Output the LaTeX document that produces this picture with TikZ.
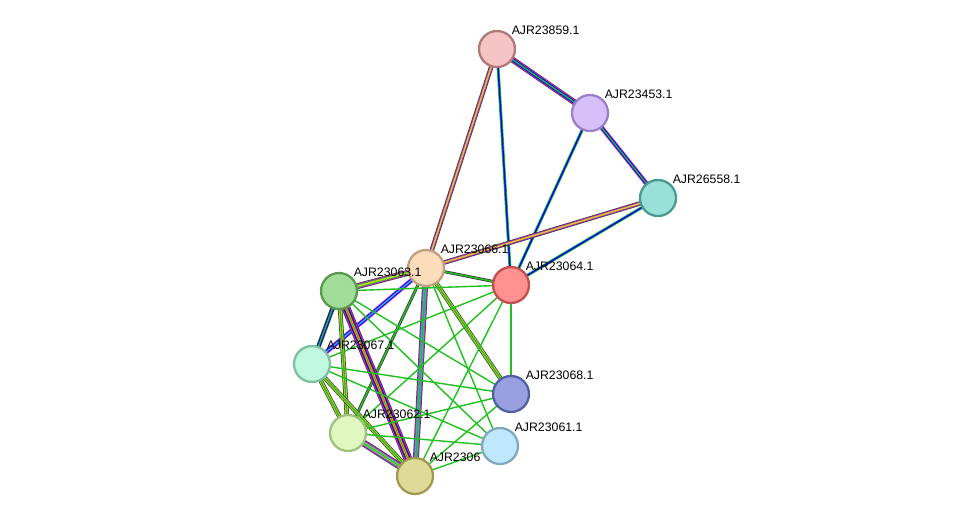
\documentclass[tikz,border=0pt]{standalone}
\usepackage{fontspec}
\setmainfont{Liberation Sans}
\usetikzlibrary{positioning}
\tikzset{%
	protein/.style={
		circle,
		draw,
		line width=1.3pt,
		minimum size=0.72cm,
		inner sep=0pt
	},
	lbl/.style={
		font=\fontsize{7}{8}\selectfont,
		inner sep=0.5pt
	},
}
% one connector, drawn as stacked bands from outer to inner colour
\newcommand{\link}[3]{%
	\foreach \c/\w in {#3} {\draw[\c, line width=\w pt] (#1) -- (#2);}
}
\definecolor{stry}{HTML}{C8D820}
\definecolor{strg}{HTML}{20C020}
\definecolor{strm}{HTML}{D020D0}
\definecolor{strc}{HTML}{30B0E0}
\definecolor{strk}{HTML}{404040}

\begin{document}
\begin{tikzpicture}[x=0.02cm,y=-0.02cm]
	\useasboundingbox (0,0) rectangle (975,522);
	% positions
	\coordinate (p859) at (497,49);
	\coordinate (p453) at (590,113);
	\coordinate (p558) at (658,198);
	\coordinate (p066) at (426,268);
	\coordinate (p064) at (511,285);
	\coordinate (p063) at (339,291);
	\coordinate (p067) at (312,364);
	\coordinate (p068) at (511,394);
	\coordinate (p062) at (348,433);
	\coordinate (p061) at (500,446);
	\coordinate (p060) at (415,476);
	
	% connectors
	\link{p859}{p453}{strk/3.4,strm/2.6,blue/1.7,strg/0.8}
	\link{p859}{p066}{strk/2.6,strm/1.7,stry/0.8}
	\link{p859}{p064}{strg/1.7,blue/0.8}
	\link{p453}{p558}{strm/2.6,blue/1.7,strg/0.8}
	\link{p453}{p064}{strg/1.7,blue/0.8}
	\link{p558}{p066}{strk/2.6,strm/1.7,stry/0.8}
	\link{p558}{p064}{strg/1.7,blue/0.8}
	\link{p066}{p064}{strk/1.7,strg/0.8}
	\link{p066}{p063}{strk/3.4,strm/2.6,strg/1.7,stry/0.8}
	\link{p066}{p067}{strm/2.6,blue/1.7,strc/0.8}
	\link{p066}{p062}{strk/1.7,strg/0.8}
	\link{p066}{p060}{strk/3.4,strm/2.6,strc/1.7,strg/0.8}
	\link{p066}{p068}{strk/2.6,stry/1.7,strg/0.8}
	\link{p066}{p061}{strg/0.8}
	\link{p064}{p063}{strg/0.8}
	\link{p064}{p067}{strg/0.8}
	\link{p064}{p068}{strg/0.8}
	\link{p064}{p062}{strg/0.8}
	\link{p064}{p060}{strg/0.8}
	\link{p063}{p067}{strk/2.6,blue/1.7,strg/0.8}
	\link{p063}{p062}{strk/2.6,stry/1.7,strg/0.8}
	\link{p063}{p060}{strk/5,strm/4,blue/3,red/2,stry/1.2,strg/0.6}
	\link{p063}{p068}{strg/0.8}
	\link{p063}{p061}{strg/0.8}
	\link{p067}{p062}{strk/2.6,stry/1.7,strg/0.8}
	\link{p067}{p060}{strk/2.6,stry/1.7,strg/0.8}
	\link{p067}{p068}{strg/0.8}
	\link{p067}{p061}{strg/0.8}
	\link{p062}{p060}{strk/4,strm/3,strc/2,stry/1.2,strg/0.6}
	\link{p062}{p068}{strg/0.8}
	\link{p062}{p061}{strg/0.8}
	\link{p060}{p068}{strg/0.8}
	\link{p060}{p061}{strg/0.8}
	
	% proteins
	\node[protein, draw={rgb,255:red,176;green,120;blue,120}, fill={rgb,255:red,246;green,196;blue,196}, label={[lbl]above right:AJR23859.1}] (n859) at (p859) {};
	\node[protein, draw={rgb,255:red,154;green,128;blue,200}, fill={rgb,255:red,215;green,192;blue,249}, label={[lbl]above right:AJR23453.1}] (n453) at (p453) {};
	\node[protein, draw={rgb,255:red,74;green,154;blue,144}, fill={rgb,255:red,152;green,224;blue,216}, label={[lbl]above right:AJR26558.1}] (n558) at (p558) {};
	\node[protein, draw={rgb,255:red,192;green,160;blue,128}, fill={rgb,255:red,253;green,220;blue,188}, label={[lbl]above right:AJR23066.1}] (n066) at (p066) {};
	\node[protein, draw={rgb,255:red,192;green,80;blue,80}, fill={rgb,255:red,255;green,144;blue,144}, label={[lbl]above right:AJR23064.1}] (n064) at (p064) {};
	\node[protein, draw={rgb,255:red,90;green,154;blue,80}, fill={rgb,255:red,160;green,221;blue,152}, label={[lbl]above right:AJR23063.1}] (n063) at (p063) {};
	\node[protein, draw={rgb,255:red,128;green,192;blue,160}, fill={rgb,255:red,192;green,248;blue,224}, label={[lbl]above right:AJR23067.1}] (n067) at (p067) {};
	\node[protein, draw={rgb,255:red,80;green,96;blue,160}, fill={rgb,255:red,152;green,160;blue,224}, label={[lbl]above right:AJR23068.1}] (n068) at (p068) {};
	\node[protein, draw={rgb,255:red,160;green,192;blue,128}, fill={rgb,255:red,224;green,248;blue,192}, label={[lbl]above right:AJR23062.1}] (n062) at (p062) {};
	\node[protein, draw={rgb,255:red,160;green,154;blue,80}, fill={rgb,255:red,224;green,218;blue,152}, label={[lbl]above right:AJR2306}] (n060) at (p060) {};
	\node[protein, draw={rgb,255:red,128;green,168;blue,192}, fill={rgb,255:red,192;green,232;blue,252}, label={[lbl]above right:AJR23061.1}] (n061) at (p061) {};
\end{tikzpicture}
\end{document}
